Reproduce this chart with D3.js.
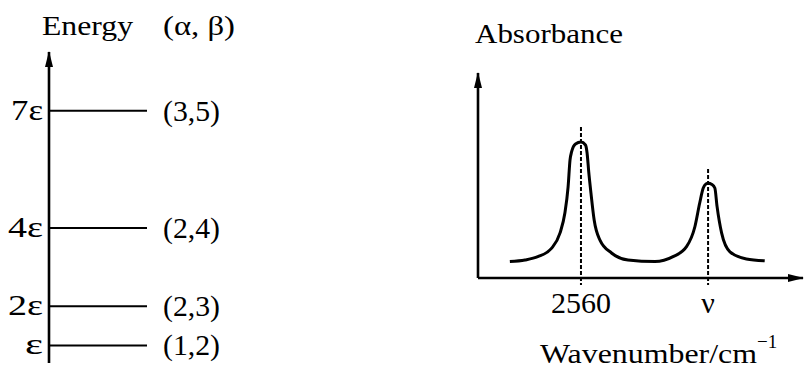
<!DOCTYPE html>
<html>
<head>
<meta charset="utf-8">
<script src="https://cdn.jsdelivr.net/npm/d3@7"></script>
<style>
  html, body { margin: 0; padding: 0; background: #fff; }
  svg { display: block; }
  text { font-family: "Liberation Serif", "Times New Roman", serif; fill: #000; }
</style>
</head>
<body>
<svg id="chart" width="804" height="373"></svg>
<script>
// ---------- Data ----------
// Energy-level diagram
const levelEnergies = [7, 4, 2, 1];
const levelLabels = ["7\u03B5", "4\u03B5", "2\u03B5", "\u03B5"];
const levelStates = ["(3,5)", "(2,4)", "(2,3)", "(1,2)"];

// Absorbance spectrum
const wavenumber = [2339, 2386, 2426, 2469, 2495, 2510, 2520, 2526, 2531, 2543, 2560, 2574, 2579, 2584, 2591, 2601, 2619, 2655, 2706, 2790,
                    2846, 2888, 2914, 2929, 2940, 2945, 2955, 2967, 2976, 2983, 2997, 3023, 3074, 3131];
const absorbance = [0.080, 0.088, 0.104, 0.146, 0.220, 0.317, 0.445, 0.576, 0.616, 0.654, 0.663, 0.649, 0.610, 0.520, 0.415, 0.283, 0.185, 0.122, 0.088, 0.080,
                    0.104, 0.153, 0.250, 0.366, 0.439, 0.454, 0.462, 0.456, 0.439, 0.348, 0.220, 0.128, 0.093, 0.084];
const peakPositions = [2560, 2955];
const peakLineTops = [0.737, 0.532];
const tickLabels = ["2560", "\u03BD"];

// ---------- Drawing ----------
const svg = d3.select("#chart");

const defs = svg.append("defs");
defs.append("marker")
  .attr("id", "arrow")
  .attr("viewBox", "0 0 16 10")
  .attr("refX", 15).attr("refY", 5)
  .attr("markerWidth", 16).attr("markerHeight", 10)
  .attr("markerUnits", "userSpaceOnUse")
  .attr("orient", "auto")
  .append("path")
  .attr("d", "M0,1 L16,5 L0,9 Z")
  .attr("fill", "#000");

// Left: energy diagram
const eScale = d3.scaleLinear().domain([0.55, 8.5]).range([363, 52]);
const axisX = 49, lineEnd = 147;
const left = svg.append("g");

left.append("line")
  .attr("x1", axisX).attr("x2", axisX)
  .attr("y1", eScale(0.55)).attr("y2", eScale(8.5))
  .attr("stroke", "#000").attr("stroke-width", 2.6)
  .attr("marker-end", "url(#arrow)");

left.selectAll("line.level").data(levelEnergies).join("line")
  .attr("class", "level")
  .attr("x1", axisX).attr("x2", lineEnd)
  .attr("y1", d => eScale(d)).attr("y2", d => eScale(d))
  .attr("stroke", "#000").attr("stroke-width", 2);

const labelWidths = [32, 35, 35, 18];
left.selectAll("text.elab").data(levelEnergies).join("text")
  .attr("class", "elab")
  .attr("x", 43).attr("y", d => eScale(d) + 9)
  .attr("text-anchor", "end")
  .attr("font-size", 29)
  .attr("textLength", (d, i) => labelWidths[i]).attr("lengthAdjust", "spacingAndGlyphs")
  .text((d, i) => levelLabels[i]);

left.selectAll("text.slab").data(levelEnergies).join("text")
  .attr("class", "slab")
  .attr("x", 163).attr("y", d => eScale(d) + 10)
  .attr("font-size", 29)
  .attr("textLength", 57).attr("lengthAdjust", "spacingAndGlyphs")
  .text((d, i) => levelStates[i]);

left.append("text").attr("x", 42).attr("y", 35)
  .attr("font-size", 27).attr("textLength", 91).attr("lengthAdjust", "spacingAndGlyphs")
  .text("Energy");
left.append("text").attr("x", 163).attr("y", 35)
  .attr("font-size", 27).attr("textLength", 72).attr("lengthAdjust", "spacingAndGlyphs")
  .text("(\u03B1, \u03B2)");

// Right: spectrum
const x = d3.scaleLinear().domain([2240, 3250]).range([478, 803]);
const y = d3.scaleLinear().domain([0, 1]).range([278, 73]);
const right = svg.append("g");

right.append("line")
  .attr("x1", x(2240)).attr("x2", x(2240))
  .attr("y1", y(0)).attr("y2", y(1))
  .attr("stroke", "#000").attr("stroke-width", 2.6)
  .attr("marker-end", "url(#arrow)");
right.append("line")
  .attr("x1", x(2240)).attr("x2", x(3250))
  .attr("y1", y(0)).attr("y2", y(0))
  .attr("stroke", "#000").attr("stroke-width", 2.6)
  .attr("marker-end", "url(#arrow)");

right.selectAll("line.peak").data(peakPositions).join("line")
  .attr("class", "peak")
  .attr("x1", d => x(d)).attr("x2", d => x(d))
  .attr("y1", (d, i) => y(peakLineTops[i])).attr("y2", y(-0.034))
  .attr("stroke", "#000").attr("stroke-width", 2)
  .attr("stroke-dasharray", "4,2");

const pts = wavenumber.map((w, i) => [w, absorbance[i]]);
right.append("path")
  .datum(pts)
  .attr("fill", "none").attr("stroke", "#000").attr("stroke-width", 3)
  .attr("d", d3.line().x(d => x(d[0])).y(d => y(d[1])).curve(d3.curveMonotoneX));

right.selectAll("text.tick").data(peakPositions).join("text")
  .attr("class", "tick")
  .attr("x", d => x(d)).attr("y", 313)
  .attr("text-anchor", "middle")
  .attr("font-size", 30)
  .text((d, i) => tickLabels[i]);

right.append("text").attr("x", 475).attr("y", 43)
  .attr("font-size", 28).attr("textLength", 148).attr("lengthAdjust", "spacingAndGlyphs")
  .text("Absorbance");

const xl = right.append("text").attr("x", 540).attr("y", 363).attr("font-size", 28);
xl.append("tspan").attr("textLength", 217).attr("lengthAdjust", "spacingAndGlyphs").text("Wavenumber/cm");
xl.append("tspan").attr("dy", -15).attr("font-size", 19).text("\u22121");
</script>
</body>
</html>
